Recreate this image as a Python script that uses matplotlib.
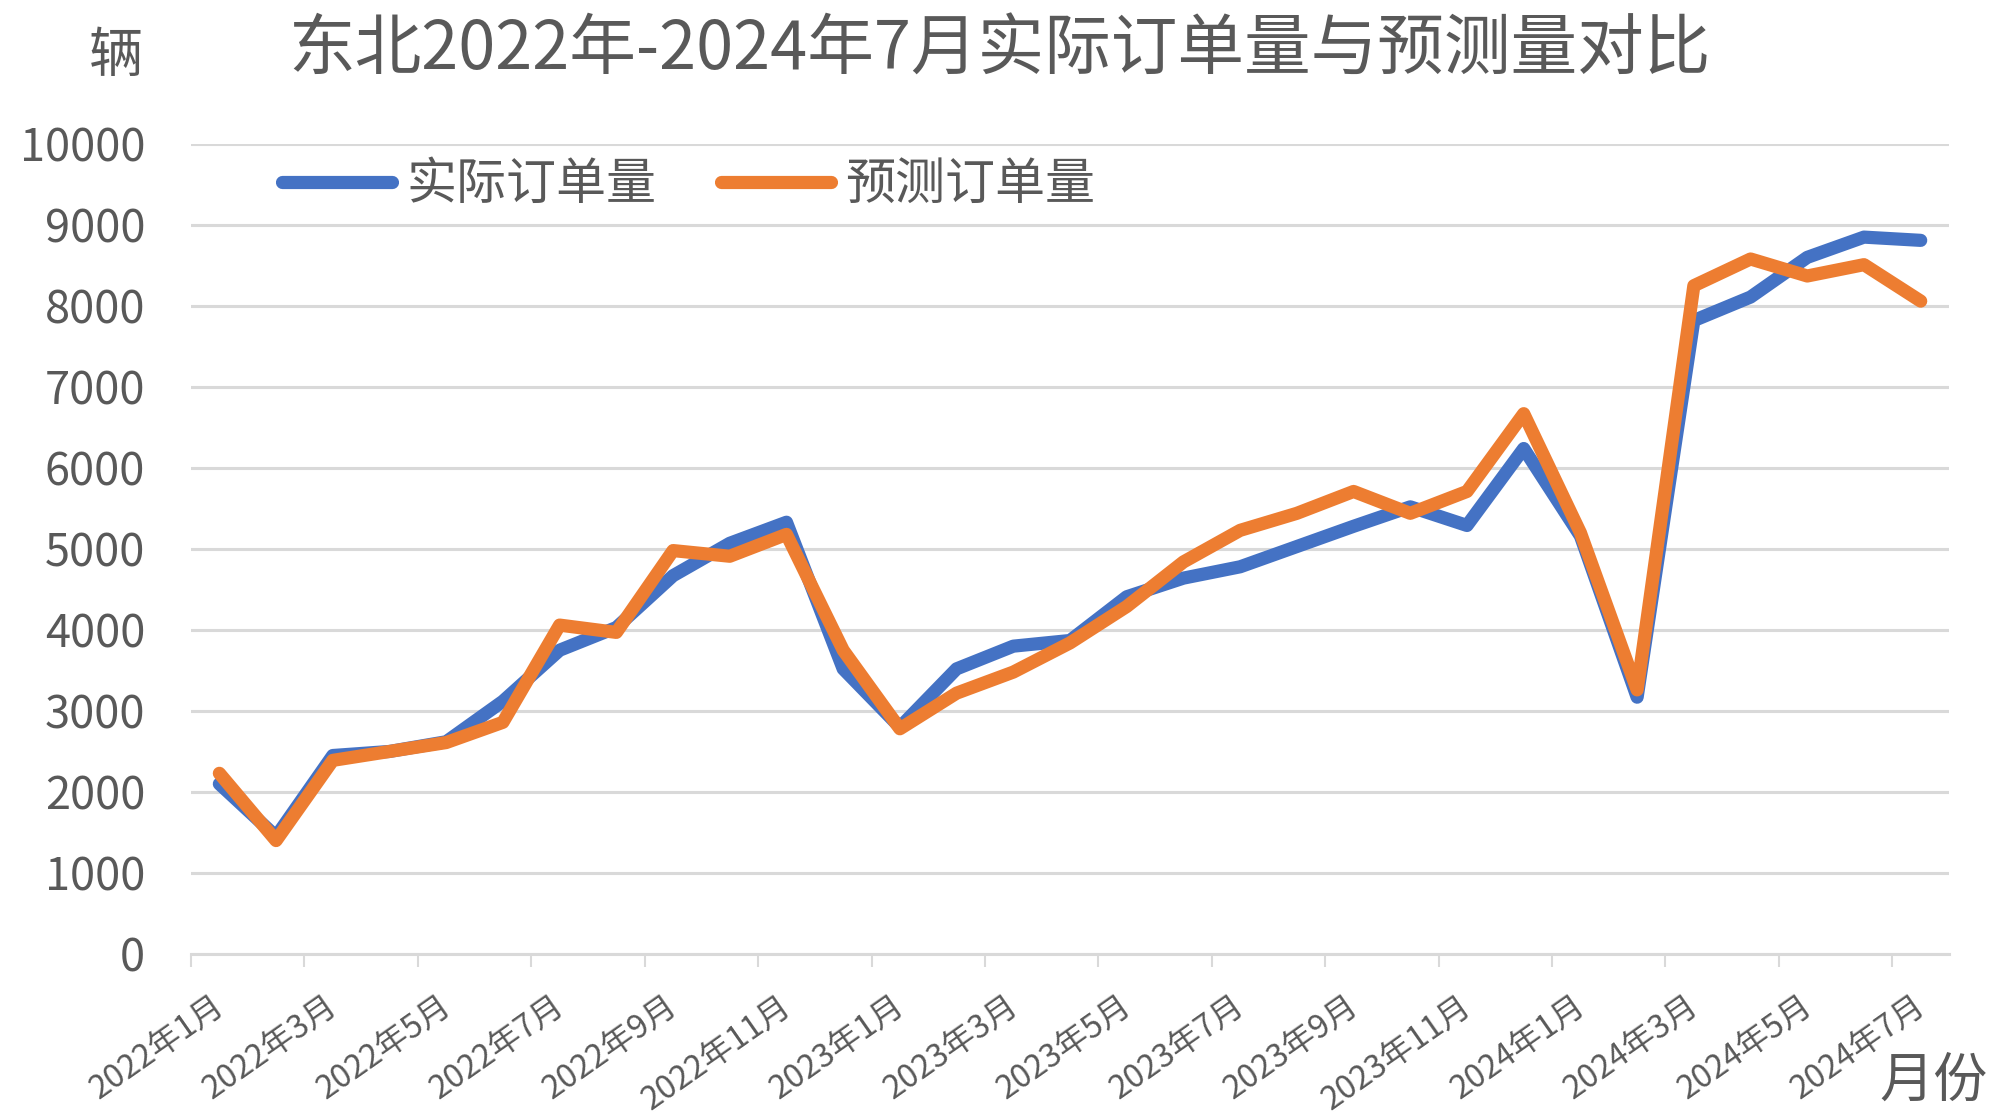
import matplotlib
matplotlib.use("Agg")
import matplotlib.pyplot as plt
import matplotlib.transforms as mtransforms
import numpy as np

plt.rcParams['font.family'] = ['Noto Sans CJK SC', 'DejaVu Sans']

months = [f"{y}年{m}月" for y in (2022, 2023, 2024) for m in range(1, 13)][:31]
actual = [2100, 1450, 2450, 2500, 2620, 3120, 3750, 4030, 4670, 5070, 5330,
          3520, 2800, 3520, 3800, 3870, 4410, 4640, 4780, 5030, 5280, 5520,
          5290, 6240, 5160, 3170, 7820, 8110, 8600, 8850, 8810]
forecast = [2230, 1400, 2390, 2500, 2610, 2860, 4060, 3970, 4980, 4910, 5180,
            3750, 2780, 3220, 3480, 3840, 4290, 4840, 5230, 5440, 5710, 5440,
            5710, 6670, 5200, 3260, 8250, 8580, 8370, 8510, 8060]
tick_labels = months[::2]
yticks = list(range(0, 10001, 1000))

TXT = '#595959'
GRID = '#d9d9d9'

fig = plt.figure(figsize=(19.98, 11.16), dpi=100)
ax = fig.add_axes([0.0956, 0.1452, 0.8799, 0.7258])

x = np.arange(len(months)) + 0.5
ax.plot(x, actual, color='#4472C4', lw=9.5, solid_capstyle='round',
        solid_joinstyle='round', label='实际订单量', zorder=3)
ax.plot(x, forecast, color='#ED7D31', lw=9.5, solid_capstyle='round',
        solid_joinstyle='round', label='预测订单量', zorder=4)

ax.set_xlim(0, len(months))
ax.set_ylim(0, 10000)
ax.set_yticks(yticks)
ax.set_yticklabels([str(v) for v in yticks])
ax.yaxis.grid(True, color=GRID, lw=2.2)
ax.set_axisbelow(True)
for s in ['top', 'right', 'left']:
    ax.spines[s].set_visible(False)
ax.spines['bottom'].set_color(GRID)
ax.spines['bottom'].set_linewidth(2.2)
ax.tick_params(axis='y', length=0, pad=33, labelsize=32.5, labelcolor=TXT)

ax.set_xticks(np.arange(0, len(months), 2))
ax.set_xticklabels(tick_labels, rotation=35, ha='right', va='center',
                   rotation_mode='anchor')
ax.tick_params(axis='x', length=9, width=1.5, color=GRID, labelsize=23.5,
               labelcolor=TXT, pad=12)
offset = mtransforms.ScaledTranslation(0.30, -0.20, fig.dpi_scale_trans)
for lab in ax.get_xticklabels():
    lab.set_transform(lab.get_transform() + offset)

fig.text(0.5, 1 - 51/1116, '东北2022年-2024年7月实际订单量与预测量对比',
         ha='center', va='center', fontsize=48, color=TXT)
fig.text(116/1998, 1 - 57/1116, '辆', ha='center', va='center',
         fontsize=39, color=TXT)
fig.text(1934/1998, 1 - 1081/1116, '月份', ha='center', va='center',
         fontsize=39, color=TXT)

fig.legend(loc='center left', bbox_to_anchor=(257/1998, 1 - 185/1116),
           ncol=2, frameon=False, fontsize=36, handlelength=2.2,
           handletextpad=0.28, columnspacing=1.3, borderpad=0,
           labelcolor=TXT)

fig.savefig('out.png', dpi=100)
